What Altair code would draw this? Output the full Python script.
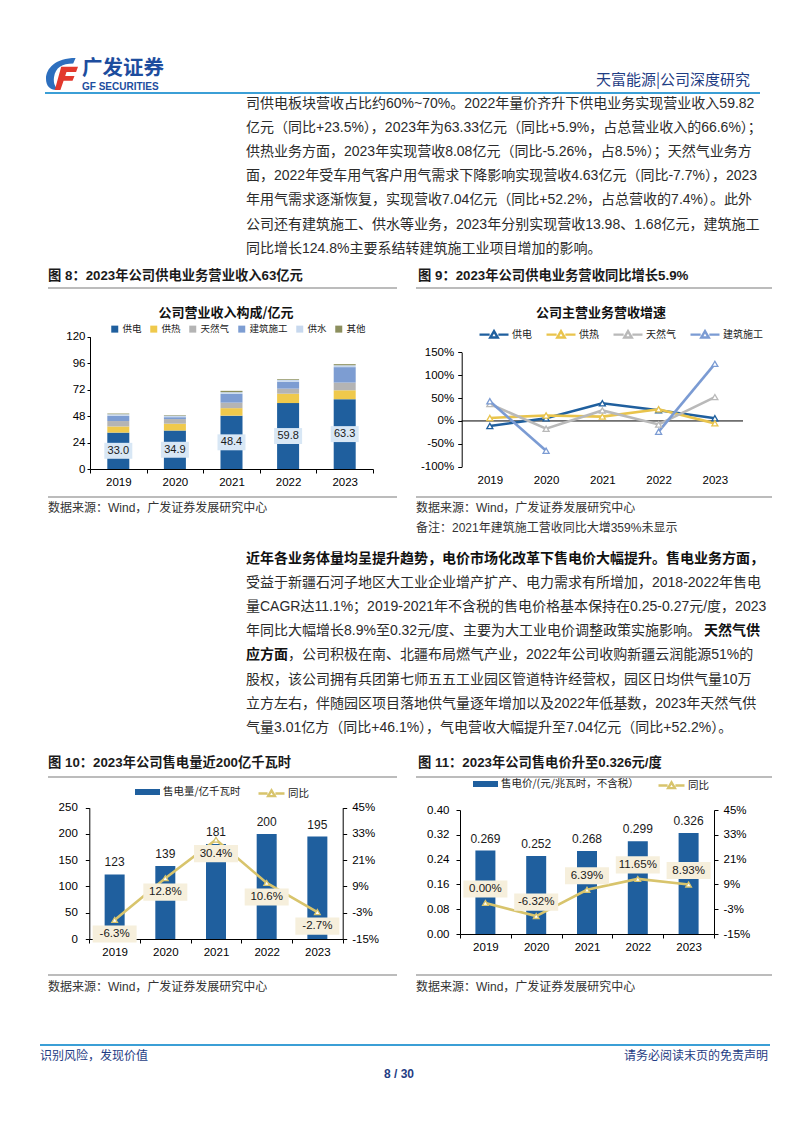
import altair as alt
import pandas as pd

# ---------------- data ----------------
years = ["2019", "2020", "2021", "2022", "2023"]

revenue_segments = ["供电", "供热", "天然气", "建筑施工", "供水", "其他"]
revenue_power = [33.0, 34.9, 48.4, 59.8, 63.3]
revenue_heat = [5.6, 6.2, 6.8, 8.5, 8.1]
revenue_gas = [4.9, 4.2, 5.0, 4.6, 7.0]
revenue_construction = [4.7, 1.7, 8.0, 6.2, 14.0]
revenue_water = [1.5, 1.5, 1.5, 1.6, 1.7]
revenue_other = [0.6, 0.5, 1.2, 0.7, 1.0]

growth_series = ["供电", "供热", "天然气", "建筑施工"]
growth_power = [-11.0, 5.8, 38.7, 23.5, 5.9]
growth_heat = [6.5, 12.0, 9.5, 25.5, -5.3]
growth_gas = [37.0, -17.0, 23.0, -7.7, 52.2]
growth_construction = [43.0, -65.0, None, -23.5, 124.8]

volume_series = ["售电量/亿千瓦时", "同比"]
volume = [123, 139, 181, 200, 195]
volume_yoy = [-6.3, 12.8, 30.4, 10.6, -2.7]

price_series = ["售电价/(元/兆瓦时，不含税）", "同比"]
price = [0.269, 0.252, 0.268, 0.299, 0.326]
price_yoy = [0.00, -6.32, 6.39, 11.65, 8.93]

# ---------------- texts ----------------
header_brand = "广发证券"
header_brand_en = "GF SECURITIES"
header_right = "天富能源|公司深度研究"

para1 = [
    "司供电板块营收占比约60%~70%。2022年量价齐升下供电业务实现营业收入59.82",
    "亿元（同比+23.5%），2023年为63.33亿元（同比+5.9%，占总营业收入的66.6%）；",
    "供热业务方面，2023年实现营收8.08亿元（同比-5.26%，占8.5%）；天然气业务方",
    "面，2022年受车用气客户用气需求下降影响实现营收4.63亿元（同比-7.7%），2023",
    "年用气需求逐渐恢复，实现营收7.04亿元（同比+52.2%，占总营收的7.4%）。此外",
    "公司还有建筑施工、供水等业务，2023年分别实现营收13.98、1.68亿元，建筑施工",
    "同比增长124.8%主要系结转建筑施工业项目增加的影响。",
]
para2_bold_first = "近年各业务体量均呈提升趋势，电价市场化改革下售电价大幅提升。售电业务方面，"
para2 = [
    "受益于新疆石河子地区大工业企业增产扩产、电力需求有所增加，2018-2022年售电",
    "量CAGR达11.1%；2019-2021年不含税的售电价格基本保持在0.25-0.27元/度，2023",
    "年同比大幅增长8.9%至0.32元/度、主要为大工业电价调整政策实施影响。",
    "，公司积极在南、北疆布局燃气产业，2022年公司收购新疆云润能源51%的",
    "股权，该公司拥有兵团第七师五五工业园区管道特许经营权，园区日均供气量10万",
    "立方左右，伴随园区项目落地供气量逐年增加以及2022年低基数，2023年天然气供",
    "气量3.01亿方（同比+46.1%），气电营收大幅提升至7.04亿元（同比+52.2%）。",
]
para2_bold_tail = "天然气供"
para2_bold_head = "应方面"

cap8 = "图 8：2023年公司供电业务营业收入63亿元"
cap9 = "图 9：2023年公司供电业务营收同比增长5.9%"
cap10 = "图 10：2023年公司售电量近200亿千瓦时"
cap11 = "图 11：2023年公司售电价升至0.326元/度"
title8 = "公司营业收入构成/亿元"
title9 = "公司主营业务营收增速"
source = "数据来源：Wind，广发证券发展研究中心"
note9 = "备注：2021年建筑施工营收同比大增359%未显示"
footer_left = "识别风险，发现价值"
footer_right = "请务必阅读末页的免责声明"
page_no = "8 / 30"

# ---------------- styling / layout ----------------
W, H = 786, 1110
SANS = "Liberation Sans, Noto Sans CJK SC"
CJK = "Noto Sans CJK SC"
LAT = "Liberation Sans"
BLUE = "#1f5f9e"
KHAKI = "#d8c46c"
TXT = "#2b2b2b"
NAVY = "#1f3d84"
BOX = "M-1,-0.57H1V0.57H-1Z"
BOXW = "M-1,-0.39H1V0.39H-1Z"
LINE_SYM = "M-1,0H-0.3M0.3,0H1M-0.26,0.2L0,-0.24L0.26,0.2Z"
RECT_SYM = "M-1,-0.24H1V0.24H-1Z"


def text(s, x, y, size=14, weight="normal", color=TXT, align="left", font=SANS):
    return alt.Chart(pd.DataFrame({"t": [s]})).mark_text(
        align=align, baseline="middle", fontSize=size, fontWeight=weight,
        color=color, font=font
    ).encode(x=alt.value(x), y=alt.value(y), text="t:N")


def hrule(x1, x2, y, color="#a6a6a6", w=1.5):
    return alt.Chart(pd.DataFrame({"t": [0]})).mark_rule(
        color=color, strokeWidth=w
    ).encode(x=alt.value(x1), x2=alt.value(x2), y=alt.value(y))


def xenc(lo, hi, axis_y, kind="band"):
    if kind == "band":
        sc = alt.Scale(type="band", range=[lo, hi], paddingInner=0, paddingOuter=0)
        ax = alt.Axis(orient="bottom", offset=axis_y - H, title=None, labelAngle=0,
                      labelFont=LAT, labelFontSize=11.5, labelColor="#000",
                      labelPadding=3, domainColor="#000", tickColor="#000",
                      tickSize=4, tickBand="extent", grid=False)
    else:
        sc = alt.Scale(type="point", range=[lo, hi], padding=0.5)
        ax = alt.Axis(orient="bottom", offset=axis_y - H, title=None, labelAngle=0,
                      labelFont=LAT, labelFontSize=11.5, labelColor="#000",
                      labelPadding=8, domain=False, ticks=False, tickSize=0,
                      grid=False)
    return alt.X("year:O", scale=sc, axis=ax, sort=years)


def yaxis(orient, offset, values, expr=None, fmt=None, pad=4, tick=4):
    kw = dict(orient=orient, offset=offset, values=values, title=None,
              labelFont=LAT, labelFontSize=11.5, labelColor="#000",
              labelPadding=pad, domainColor="#000", tickColor="#000",
              tickSize=tick, grid=False)
    if expr:
        kw["labelExpr"] = expr
    if fmt:
        kw["format"] = fmt
    return alt.Axis(**kw)


def legend(x, y, sym, size, font_size, offset=3, colpad=8, stroke_w=0):
    return alt.Legend(orient="none", legendX=x, legendY=y, direction="horizontal",
                      title=None, symbolType=sym, symbolSize=size,
                      symbolStrokeWidth=stroke_w, labelFont=CJK,
                      labelFontSize=font_size, labelColor="#222",
                      labelOffset=offset, columnPadding=colpad, padding=0)


layers = []

# ---------------- header ----------------
logo_blue = ("M0.85,-1 C-0.4,-1 -1,-0.35 -1,0.3 C-1,0.75 -0.75,1 -0.35,1 L-0.15,1 "
             "C-0.45,0.85 -0.55,0.55 -0.5,0.2 C-0.4,-0.4 0,-0.65 0.7,-0.65 Z")
logo_red = ("M-0.05,-0.45 L1,-0.45 L0.88,-0.12 L0.28,-0.12 L0.2,0.12 L0.78,0.12 "
            "L0.66,0.42 L0.1,0.42 L-0.1,1 L-0.45,1 Z")
for path, col in [(logo_blue, "#2d6fbe"), (logo_red, "#e2392d")]:
    layers.append(alt.Chart(pd.DataFrame({"t": [0]})).mark_point(
        shape=path, filled=True, color=col, opacity=1, size=1024, strokeWidth=0
    ).encode(x=alt.value(54), y=alt.value(66)))
layers.append(text(header_brand, 74, 61, size=20.5, weight="bold", color="#1d4d9e", font=CJK))
layers.append(text(header_brand_en, 74, 79, size=10, weight="bold", color="#1d4d9e", font=LAT))
layers.append(text(header_right, 742, 72, size=15, color=NAVY, align="right", font=CJK))
layers.append(hrule(37, 752, 85, color="#3b9fd6", w=2))

# ---------------- paragraph 1 ----------------
for i, line in enumerate(para1):
    layers.append(text(line, 238, 96 + i * 24.1))

# ---------------- captions 8/9 ----------------
layers.append(text(cap8, 40, 268, size=13.3, weight="bold", color="#1a1a1a"))
layers.append(text(cap9, 410, 268, size=13.3, weight="bold", color="#1a1a1a"))
layers.append(hrule(40, 389, 280))
layers.append(hrule(408, 764, 280))
layers.append(text(title8, 218, 305, size=13, weight="bold", color="#111", align="center", font=CJK))
layers.append(text(title9, 593, 305, size=13, weight="bold", color="#111", align="center", font=CJK))
layers.append(hrule(40, 389, 489))
layers.append(hrule(408, 764, 489))
layers.append(text(source, 40, 500, size=12, color="#333"))
layers.append(text(source, 408, 500, size=12, color="#333"))
layers.append(text(note9, 408, 520, size=12, color="#333"))

# ---------------- paragraph 2 ----------------
P2Y = 551
layers.append(text(para2_bold_first, 238, P2Y, weight="bold", color="#111"))
for i, line in enumerate(para2):
    y = P2Y + (i + 1) * 24.1
    if i == 3:
        layers.append(text(para2_bold_head, 238, y, weight="bold", color="#111"))
        layers.append(text(line, 238 + 42, y))
    else:
        layers.append(text(line, 238, y))
    if i == 2:
        layers.append(text(para2_bold_tail, 752, y, weight="bold", color="#111", align="right"))

# ---------------- captions 10/11 ----------------
layers.append(text(cap10, 40, 755, size=13.3, weight="bold", color="#1a1a1a"))
layers.append(text(cap11, 410, 755, size=13.3, weight="bold", color="#1a1a1a"))
layers.append(hrule(40, 389, 769))
layers.append(hrule(408, 764, 769))
layers.append(hrule(40, 389, 967))
layers.append(hrule(408, 764, 967))
layers.append(text(source, 40, 979, size=12, color="#333"))
layers.append(text(source, 408, 979, size=12, color="#333"))

# ---------------- footer ----------------
layers.append(hrule(32, 762, 1037, color="#3b9fd6", w=2))
layers.append(text(footer_left, 32, 1048, size=12, color=NAVY, font=CJK))
layers.append(text(footer_right, 760, 1048, size=12, color=NAVY, align="right", font=CJK))
layers.append(text(page_no, 391, 1066, size=12, weight="bold", color=NAVY, align="center", font=LAT))

# ---------------- chart 8: stacked revenue ----------------
seg_values = [revenue_power, revenue_heat, revenue_gas, revenue_construction,
              revenue_water, revenue_other]
rows = []
for k, (seg, arr) in enumerate(zip(revenue_segments, seg_values)):
    for yr, v in zip(years, arr):
        rows.append({"year": yr, "seg": seg, "v": v, "ord": k})
df8 = pd.DataFrame(rows)
seg_colors = ["#1f5f9e", "#efc94c", "#b4b4b4", "#7d9dd2", "#c7d8ee", "#8c8f5e"]

X8 = xenc(82, 365, 461)
sc8 = alt.Scale(domain=[0, 120], range=[461, 328.7], nice=False)
ax8 = yaxis("left", -82, [0, 24, 48, 72, 96, 120], pad=2, tick=3)
bars8 = alt.Chart(df8).mark_bar(size=22).encode(
    x=X8,
    y=alt.Y("v:Q", stack="zero", scale=sc8, axis=ax8),
    color=alt.Color("seg:N", scale=alt.Scale(domain=revenue_segments, range=seg_colors),
                    legend=legend(102, 316, "square", 49, 9.5, offset=3, colpad=7)),
    order=alt.Order("ord:Q", sort="ascending"),
)
lab8 = pd.DataFrame({"year": years, "v": revenue_power})
box8 = alt.Chart(lab8).transform_calculate(mid="datum.v / 2").mark_point(
    shape=BOX, filled=True, color="#d8e7f5", opacity=1, size=784, strokeWidth=0
).encode(x=X8, y=alt.Y("mid:Q", scale=sc8, axis=ax8))
txt8 = alt.Chart(lab8).transform_calculate(mid="datum.v / 2").mark_text(
    font=LAT, fontSize=11, color="#1a1a1a"
).encode(x=X8, y=alt.Y("mid:Q", scale=sc8, axis=ax8), text=alt.Text("v:Q", format=".1f"))
chart8 = alt.layer(bars8, box8, txt8)

# ---------------- chart 9: growth lines ----------------
rows = []
for s, arr in zip(growth_series, [growth_power, growth_heat, growth_gas, growth_construction]):
    seg = 0
    for yr, v in zip(years, arr):
        if v is None:
            seg += 1
            continue
        rows.append({"year": yr, "series": s, "v": v, "seg": f"{s}-{seg}"})
df9 = pd.DataFrame(rows)
g_colors = ["#1f5f9e", "#e9c44c", "#b9b9b9", "#7b9bd3"]
X9 = xenc(453.7, 735, 458.7, kind="point")
sc9 = alt.Scale(domain=[-100, 150], range=[458.7, 344.3], nice=False)
ax9 = yaxis("left", -453.7, [-100, -50, 0, 50, 100, 150], expr="datum.value + '%'", pad=4, tick=4)
zero9 = alt.Chart(pd.DataFrame({"z": [0]})).mark_rule(color="#000", strokeWidth=1).encode(
    y=alt.Y("z:Q", scale=sc9, axis=ax9), x=alt.value(453.7), x2=alt.value(735))
lines9 = alt.Chart(df9).mark_line(strokeWidth=2.6).encode(
    x=X9, y=alt.Y("v:Q", scale=sc9, axis=ax9),
    color=alt.Color("series:N", scale=alt.Scale(domain=growth_series, range=g_colors),
                    legend=legend(470, 310.5, LINE_SYM, 841, 10, offset=2, colpad=9, stroke_w=2.4)),
    detail="seg:N",
)
pts9 = alt.Chart(df9).mark_point(shape="triangle-up", filled=True, fill="white",
                                 opacity=1, size=36, strokeWidth=1.3).encode(
    x=X9, y=alt.Y("v:Q", scale=sc9, axis=ax9),
    stroke=alt.Stroke("series:N", scale=alt.Scale(domain=growth_series, range=g_colors), legend=None),
)
chart9 = alt.layer(zero9, lines9, pts9)


# ---------------- charts 10/11: bars + yoy line ----------------
def combo(values, yoy, names, x_lo, x_hi, y_bot, y_top, ydom, yvals, yfmt, lfmt,
          left_off, right_off, lab_dy, leg_bar, leg_line, bar_fmt):
    df = pd.DataFrame({"year": years, "v": values, "yoy": yoy,
                       "s1": names[0], "s2": names[1]})
    X = xenc(x_lo, x_hi, y_bot)
    scL = alt.Scale(domain=ydom, range=[y_bot, y_top], nice=False)
    axL = yaxis("left", left_off, yvals, fmt=yfmt, pad=7 if yfmt else 8)
    scR = alt.Scale(domain=[-15, 45], range=[y_bot, y_top], nice=False, zero=False)
    axR = yaxis("right", right_off, [-15, -3, 9, 21, 33, 45], expr="datum.value + '%'", pad=5)
    YL = alt.Y("v:Q", scale=scL, axis=axL)
    YR = alt.Y("yoy:Q", scale=scR, axis=axR)
    bars = alt.Chart(df).mark_bar(size=20).encode(
        x=X, y=YL,
        color=alt.Color("s1:N", scale=alt.Scale(domain=[names[0]], range=[BLUE]),
                        legend=legend(leg_bar[0], leg_bar[1], RECT_SYM, 625, 10.5, offset=3)))
    blab = alt.Chart(df).mark_text(dy=-12, font=LAT, fontSize=12, color="#1a1a1a").encode(
        x=X, y=YL, text=alt.Text("v:Q", format=bar_fmt))
    line = alt.Chart(df).mark_line(strokeWidth=2.6).encode(
        x=X, y=YR,
        color=alt.Color("s2:N", scale=alt.Scale(domain=[names[1]], range=[KHAKI]),
                        legend=legend(leg_line[0], leg_line[1], LINE_SYM, 676, 10.5, offset=2, stroke_w=2.4)))
    pts = alt.Chart(df).mark_point(shape="triangle-up", filled=True, fill="white",
                                   stroke=KHAKI, strokeWidth=1.3, opacity=1, size=32).encode(x=X, y=YR)
    boxes = alt.Chart(df).mark_point(shape=BOXW, filled=True, color="#f6efdc", opacity=1,
                                     size=1936, strokeWidth=0, yOffset=lab_dy).encode(x=X, y=YR)
    labs = alt.Chart(df).transform_calculate(
        lab=f"(datum.yoy < 0 ? '-' : '') + format(abs(datum.yoy), '{lfmt}') + '%'"
    ).mark_text(dy=lab_dy, font=LAT, fontSize=11.5, color="#1a1a1a").encode(x=X, y=YR, text="lab:N")
    left = alt.layer(bars, blab)
    right = alt.layer(line, pts, boxes, labs)
    return alt.layer(left, right).resolve_scale(y="independent", color="independent")


chart10 = combo(volume, volume_yoy, volume_series, 81.3, 334.7, 931, 799.7, [0, 250],
                [0, 50, 100, 150, 200, 250], None, ".1f", -81.3, -451.3, 14,
                (127, 771.5), (249, 771), "d")
chart11 = combo(price, price_yoy, price_series, 452, 706, 926, 802, [0, 0.4],
                [0, 0.08, 0.16, 0.24, 0.32, 0.40], ".2f", ".2f", -452, -80, -14,
                (465, 763.5), (649, 763), ".3f")

chart = alt.layer(*layers, chart8, chart9, chart10, chart11).resolve_scale(
    x="independent", y="independent", color="independent", stroke="independent"
).properties(width=W, height=H, padding=0).configure_view(stroke=None)

chart.save("out.html", embed_options={"renderer": "svg", "actions": False})
